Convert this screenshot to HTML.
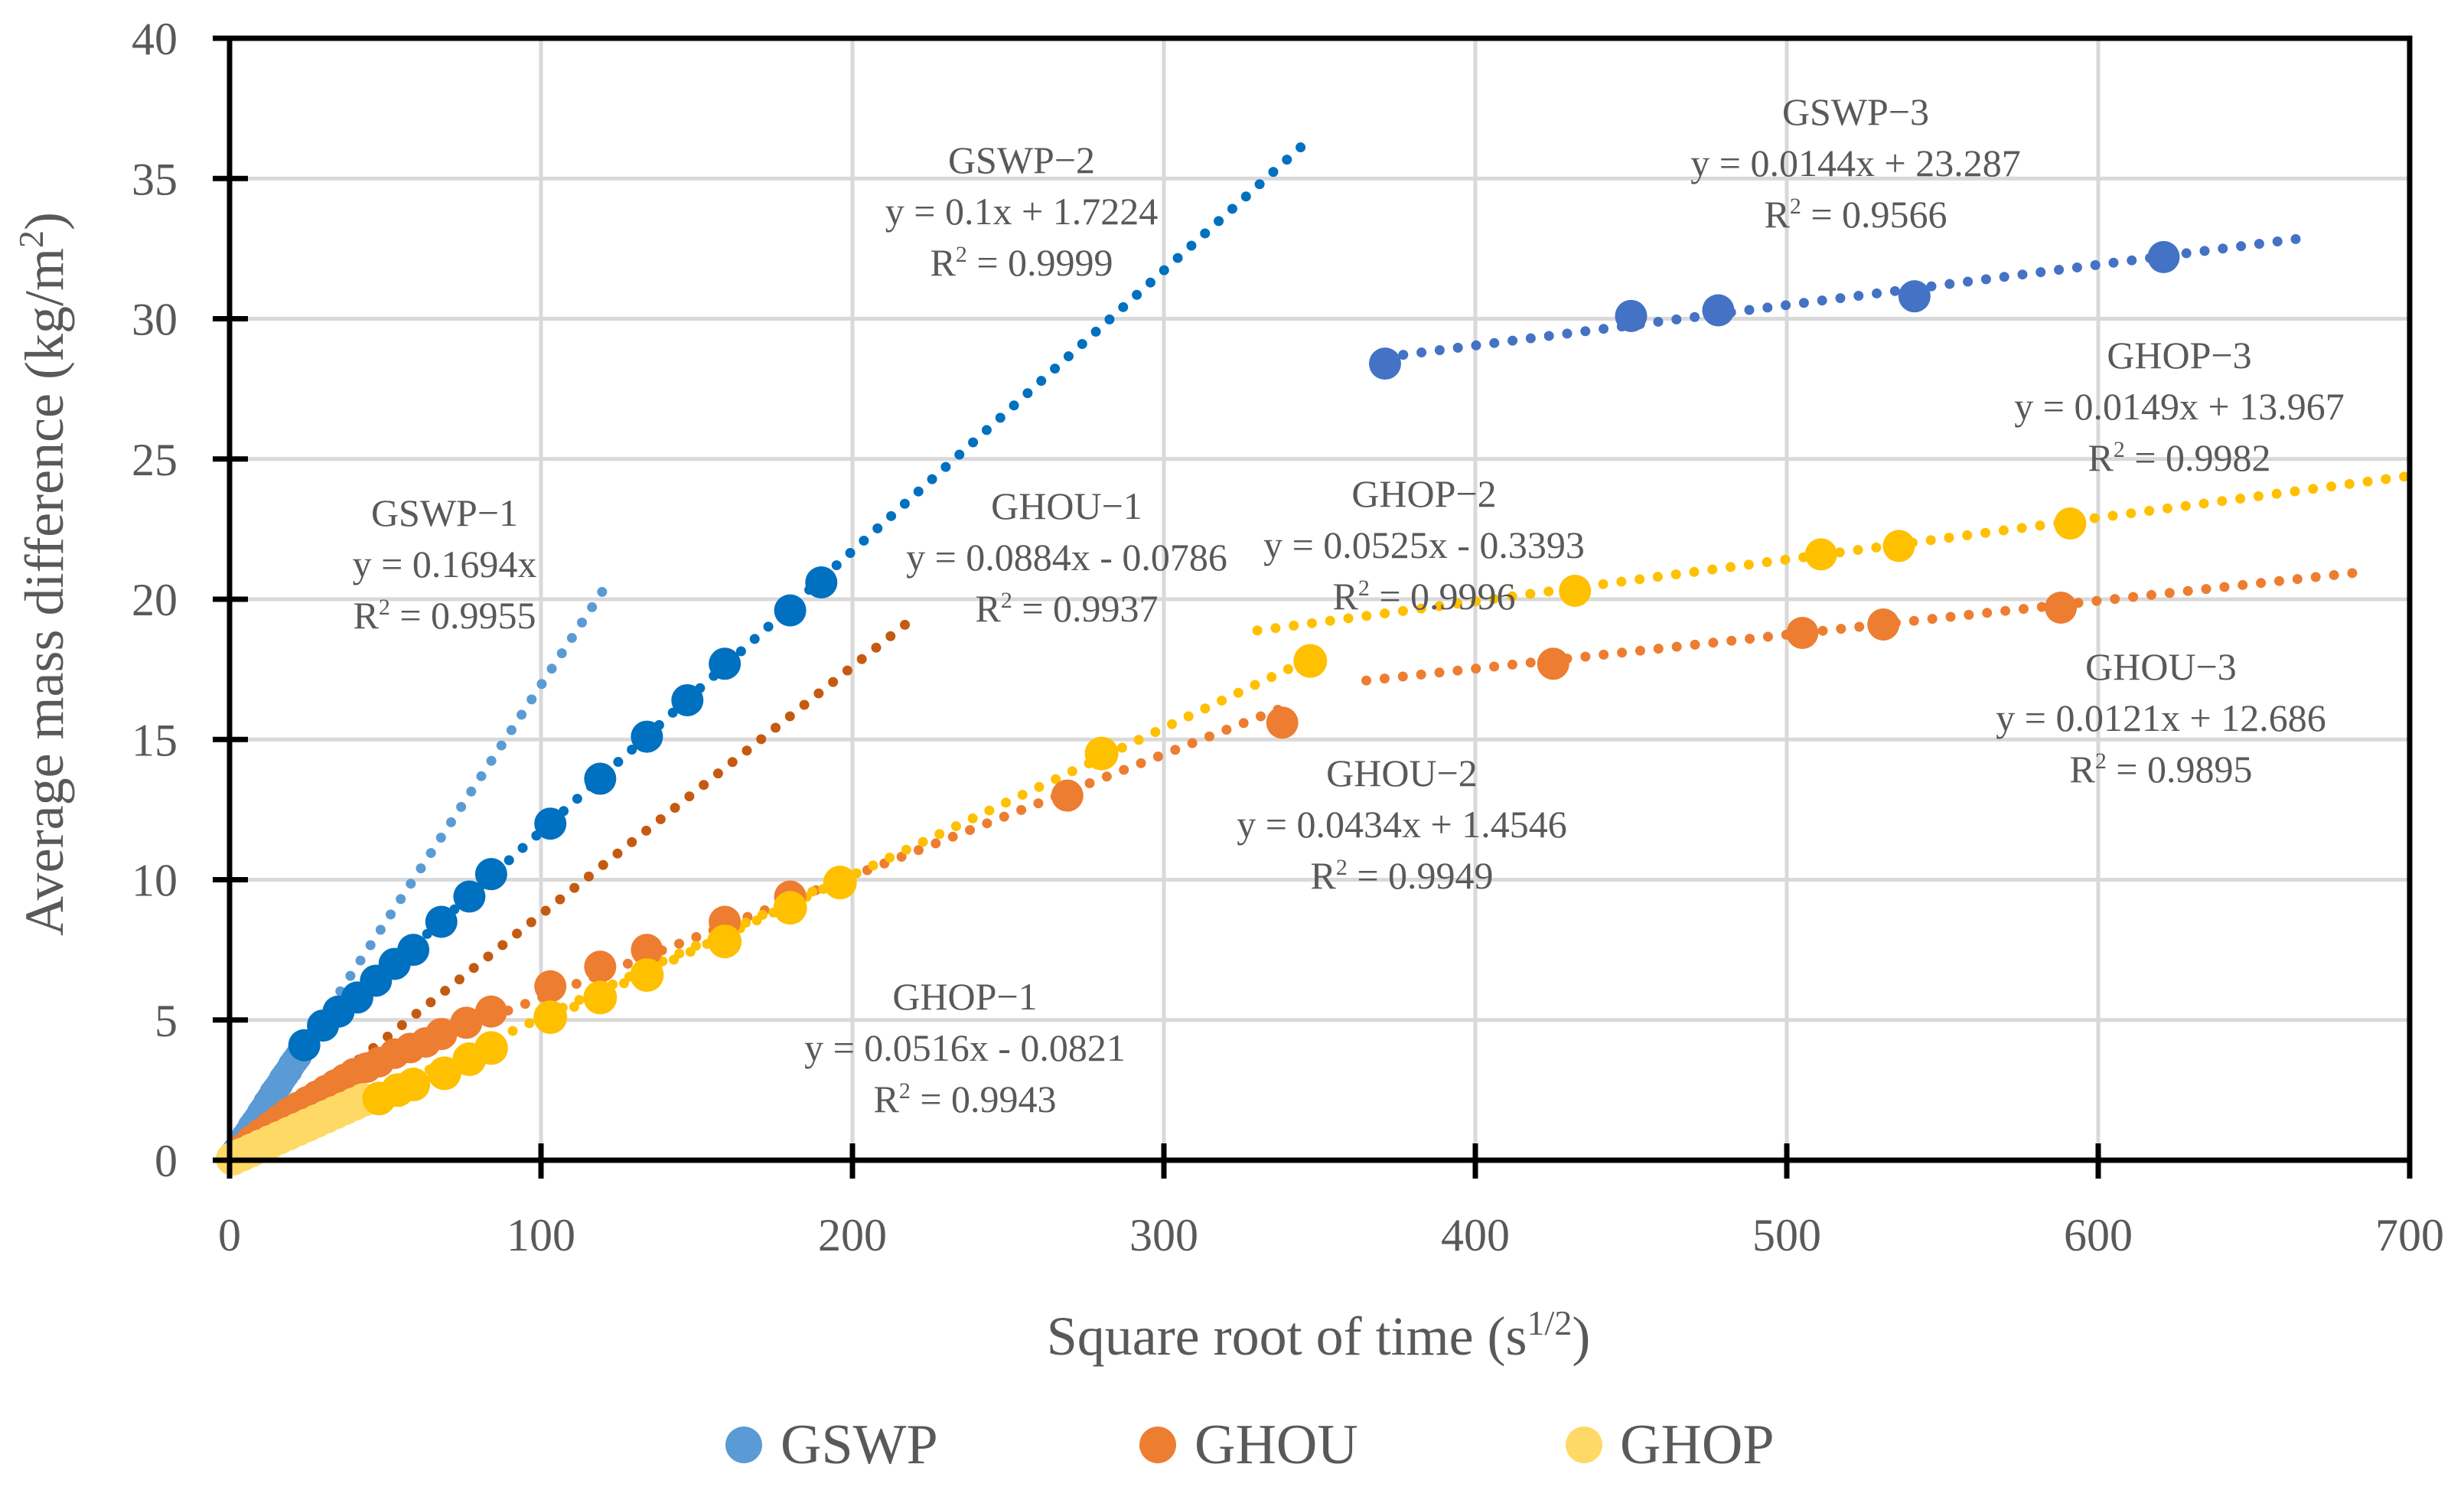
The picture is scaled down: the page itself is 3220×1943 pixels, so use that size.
<!DOCTYPE html>
<html><head><meta charset="utf-8">
<style>
html,body{margin:0;padding:0;background:#fff;}
svg{display:block;font-family:"Liberation Serif",serif;}
</style></head>
<body>
<svg id="chart" width="3220" height="1943" viewBox="0 0 3220 1943" xmlns="http://www.w3.org/2000/svg">
<g id="grid"></g>
<g id="trend"></g>
<g id="pts"></g>
<g id="axes"></g>
<g id="ann"></g>
<text x="1723" y="1770" text-anchor="middle" font-size="72" fill="#595959">Square root of time (s<tspan font-size="46" dy="-26">1/2</tspan><tspan dy="26">)</tspan></text>
<text transform="translate(82,750) rotate(-90)" text-anchor="middle" font-size="72" fill="#595959">Average mass difference (kg/m<tspan font-size="46" dy="-26">2</tspan><tspan dy="26">)</tspan></text>
<g>
<g><circle cx="972" cy="1888" r="24" fill="#5B9BD5"/><text x="1020" y="1912" font-size="74" fill="#595959">GSWP</text></g>
<g><circle cx="1513" cy="1888" r="24" fill="#ED7D31"/><text x="1561" y="1912" font-size="74" fill="#595959">GHOU</text></g>
<g><circle cx="2070" cy="1888" r="24" fill="#FFD966"/><text x="2117" y="1912" font-size="74" fill="#595959">GHOP</text></g>
</g>
</svg>
<script>
const xTicks=[0,100,200,300,400,500,600,700];
const yTicks=[0,5,10,15,20,25,30,35,40];
// GSWP-1 (light blue)
const gswp1X=[1,2,3,4,5,6,7,8,9,10,11,12,13,14,15,16,17,18,19,20,21,22,23];
const gswp1Y=[0.2,0.35,0.5,0.7,0.85,1.0,1.2,1.35,1.5,1.7,1.85,2.05,2.2,2.4,2.55,2.7,2.9,3.05,3.2,3.4,3.55,3.7,3.9];
// GSWP-2 (blue)
const gswp2X=[24,30,35,41,47,53,59,68,77,84,103,119,134,147,159,180,190];
const gswp2Y=[4.1,4.8,5.3,5.8,6.4,7.0,7.5,8.5,9.4,10.2,12.0,13.6,15.1,16.4,17.7,19.6,20.6];
// GSWP-3
const gswp3X=[371,450,478,541,621];
const gswp3Y=[28.4,30.1,30.3,30.8,32.2];
// GHOU-1
const ghou1X=[1,4,7,10,13,16,19,22,25,28,31,34,37,40,44,48,53,58,63];
const ghou1Y=[0.1,0.4,0.7,0.95,1.2,1.45,1.7,1.9,2.1,2.3,2.5,2.7,2.9,3.1,3.3,3.5,3.8,4.0,4.2];
// GHOU-2
const ghou2X=[68,76,84,103,119,134,159,180,269,338];
const ghou2Y=[4.5,4.9,5.3,6.2,6.9,7.5,8.5,9.4,13.0,15.6];
// GHOU-3
const ghou3X=[425,505,531,588];
const ghou3Y=[17.7,18.8,19.1,19.7];
// GHOP-1
const ghop1X=[1,4,7,10,13,16,19,22,25,28,31,34,37,40,43];
const ghop1Y=[0.05,0.2,0.35,0.5,0.65,0.8,0.95,1.1,1.25,1.4,1.55,1.7,1.85,2.0,2.15];
// GHOP-2
const ghop2X=[48,54,59,69,77,84,103,119,134,159,180,196,280,347];
const ghop2Y=[2.2,2.5,2.7,3.1,3.6,4.0,5.1,5.8,6.6,7.8,9.0,9.9,14.5,17.8];
// GHOP-3
const ghop3X=[432,511,536,591];
const ghop3Y=[20.3,21.6,21.9,22.7];
// trendlines: slope, intercept, xStart, xEnd
const trendSlope=[0.1694,0.1,0.0144,0.0884,0.0434,0.0121,0.0516,0.0525,0.0149];
const trendIntercept=[0,1.7224,23.287,-0.0786,1.4546,12.686,-0.0821,-0.3393,13.967];
const trendStart=[0,24,371,0,40,365,0,100,330];
const trendEnd=[122,347,665,218,338,683,195,347,700];
const trendColor=['#5B9BD5','#0070C0','#4472C4','#C55A11','#ED7D31','#ED7D31','#FFC000','#FFC000','#FFC000'];
const trendName=['gswp-1','gswp-2','gswp-3','ghou-1','ghou-2','ghou-3','ghop-1','ghop-2','ghop-3'];

const NS='http://www.w3.org/2000/svg';
const X0=300,X1=3149,Y0=1516,Y1=50;
const sx=v=>X0+(v/700)*(X1-X0);
const sy=v=>Y0-(v/40)*(Y0-Y1);
function mk(tag,attrs,parent){const e=document.createElementNS(NS,tag);for(const k in attrs)e.setAttribute(k,attrs[k]);parent.appendChild(e);return e;}
const grid=document.getElementById('grid'),axes=document.getElementById('axes'),trend=document.getElementById('trend'),pts=document.getElementById('pts'),ann=document.getElementById('ann');
xTicks.forEach(t=>{
  const l=mk('line',{x1:sx(t),x2:sx(t),y1:Y1,y2:Y0,stroke:'#D9D9D9','stroke-width':5},grid);
  
  
  const k=mk('line',{x1:sx(t),x2:sx(t),y1:Y0-22,y2:Y0+24,stroke:'#000','stroke-width':7},axes);
  
  
  const tx=mk('text',{x:sx(t),y:Y0+118,'text-anchor':'middle','font-size':60,fill:'#595959'},axes);
  tx.textContent=t;
  
  
});
yTicks.forEach(t=>{
  const l=mk('line',{x1:X0,x2:X1,y1:sy(t),y2:sy(t),stroke:'#D9D9D9','stroke-width':5},grid);
  
  
  const k=mk('line',{x1:X0-22,x2:X0+24,y1:sy(t),y2:sy(t),stroke:'#000','stroke-width':7},axes);
  
  
  const tx=mk('text',{x:232,y:sy(t)+21,'text-anchor':'end','font-size':60,fill:'#595959'},axes);
  tx.textContent=t;
  
  
});
const frame=mk('rect',{x:X0,y:Y1,width:X1-X0,height:Y0-Y1,fill:'none',stroke:'#000','stroke-width':7},axes);



trendSlope.forEach((m,i)=>{
  const b=trendIntercept[i],a=trendStart[i],e=trendEnd[i];
  const l=mk('line',{x1:sx(a),y1:sy(m*a+b),x2:sx(e),y2:sy(m*e+b),stroke:trendColor[i],'stroke-width':13,'stroke-linecap':'round','stroke-dasharray':'0 24'},trend);
  
  
});
function series(xs,ys,color,r,name){
  const g=mk('g',{},pts);
  
  
  xs.forEach((x,i)=>{
    const c=mk('circle',{cx:sx(x),cy:sy(ys[i]),r:r,fill:color},g);
    
    
  });
}
series(gswp1X,gswp1Y,'#5B9BD5',18,'gswp-1');
series(ghou1X,ghou1Y,'#ED7D31',20,'ghou-1');
series(ghop1X,ghop1Y,'#FFD966',22,'ghop-1');
series(gswp2X,gswp2Y,'#0070C0',21,'gswp-2');
series(ghou2X,ghou2Y,'#ED7D31',21,'ghou-2');
series(ghop2X,ghop2Y,'#FFC000',22,'ghop-2');
series(gswp3X,gswp3Y,'#4472C4',21,'gswp-3');
series(ghou3X,ghou3Y,'#ED7D31',21,'ghou-3');
series(ghop3X,ghop3Y,'#FFC000',21,'ghop-3');

const annName=['GSWP−1','GSWP−2','GSWP−3','GHOU−1','GHOU−2','GHOU−3','GHOP−1','GHOP−2','GHOP−3'];
const annEq=['y = 0.1694x','y = 0.1x + 1.7224','y = 0.0144x + 23.287','y = 0.0884x - 0.0786','y = 0.0434x + 1.4546','y = 0.0121x + 12.686','y = 0.0516x - 0.0821','y = 0.0525x - 0.3393','y = 0.0149x + 13.967'];
const annR2=['0.9955','0.9999','0.9566','0.9937','0.9949','0.9895','0.9943','0.9996','0.9982'];
const annCx=[581,1335,2425,1394,1832,2824,1261,1861,2848];
const annCy=[670,209,146,661,1010,871,1302,645,464];
annName.forEach((n,i)=>{
  const g=mk('g',{},ann);
  
  
  [n,annEq[i],null].forEach((s,j)=>{
    const t=mk('text',{x:annCx[i],y:annCy[i]+j*67+17,'text-anchor':'middle','font-size':50,fill:'#595959'},g);
    if(s!==null){t.textContent=s;}
    else{t.innerHTML='R<tspan font-size="30" dy="-18">2</tspan><tspan dy="18"> = '+annR2[i]+'</tspan>';}
  });
});
</script>
</body></html>
